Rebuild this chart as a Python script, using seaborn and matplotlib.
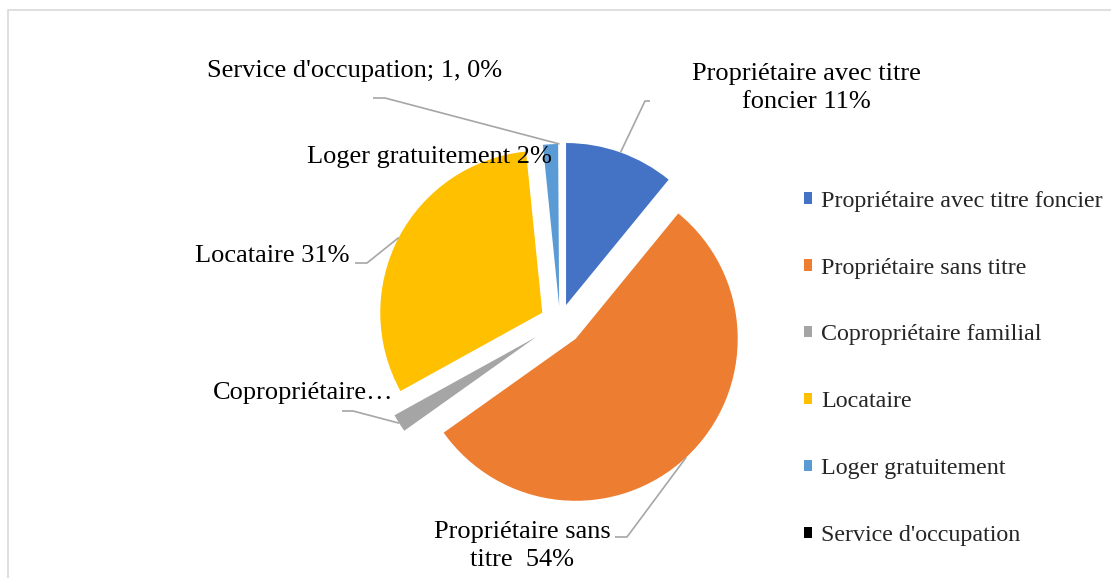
import matplotlib
matplotlib.use("Agg")
import matplotlib.pyplot as plt
import seaborn as sns
import numpy as np
from matplotlib.patches import Rectangle, Patch

# ---- data ----
categories = ["Propriétaire avec titre foncier", "Propriétaire sans titre",
              "Copropriétaire familial", "Locataire", "Loger gratuitement",
              "Service d'occupation"]
counts = [109, 542, 18, 314, 15, 1]
label_texts = ["Propriétaire avec titre\nfoncier 11%", "Propriétaire sans\ntitre  54%",
               "Copropriétaire…", "Locataire 31%", "Loger gratuitement 2%",
               "Service d'occupation; 1, 0%"]
colors = ["#4472C4", "#ED7D31", "#A5A5A5", "#FFC000", "#5B9BD5", "#000000"]

sns.set_theme(style="white")
plt.rcParams['font.family'] = ['Liberation Serif', 'DejaVu Serif']

W, H = 1111, 578
fig = plt.figure(figsize=(W / 100, H / 100), dpi=100)
fig.patch.set_facecolor("white")

# chart area border
fig.patches.append(Rectangle((8 / W, -0.1), 1.2, (H - 10) / H + 0.1,
                             transform=fig.transFigure, fill=False,
                             edgecolor="#D9D9D9", linewidth=1.2))

ax = fig.add_axes([0, 0, 1, 1])
R = 162
center = (560, H - 322)
explode = [18, 23, 28, 20, 16, 16]
wedges, _ = ax.pie(counts, colors=colors, startangle=90, counterclock=False,
                   radius=R, center=center, explode=explode,
                   wedgeprops=dict(linewidth=0))
# the 0% slice is not visible in the original rendering
wedges[-1].set_visible(False)
ax.set_xlim(0, W)
ax.set_ylim(0, H)
ax.set_aspect("equal")
ax.axis("off")


def arc_point(w, frac=0.5):
    th = np.deg2rad(w.theta1 + frac * (w.theta2 - w.theta1))
    cx, cy = w.center
    return cx + w.r * np.cos(th), cy + w.r * np.sin(th)


lc = "#A6A6A6"
fs = 19

# label layout: (text center x, text center y (screen), leader knee points (screen) or None)
layout = [
    (806, 88, [(650, 101), (645, 101)]),
    (522, 546, [(615, 537), (627, 537)]),
    (303, 393, [(342, 411), (353, 411)]),
    (272, 256, [(355, 263), (367, 263)]),
    (429, 157, None),
    (355, 71, [(373, 98), (385, 98)]),
]

for w, txt, (tx, ty, knee) in zip(wedges, label_texts, layout):
    ax.text(tx, H - ty, txt, ha="center", va="center", fontsize=fs,
            color="#000000", linespacing=1.38)
    if knee is not None:
        ex, ey = arc_point(w)
        xs = [k[0] for k in knee] + [ex]
        ys = [H - k[1] for k in knee] + [ey]
        ax.plot(xs, ys, color=lc, linewidth=1.2, solid_capstyle="butt")

handles = [Patch(facecolor=c, edgecolor="none") for c in colors]
leg = fig.legend(handles, categories, loc="upper left",
                 bbox_to_anchor=(782 / W, 1 - 169 / H), frameon=False,
                 fontsize=17.3, handlelength=0.35, handleheight=0.35,
                 handletextpad=0.38, labelspacing=1.91)

fig.savefig("out.png", dpi=100, facecolor="white")
